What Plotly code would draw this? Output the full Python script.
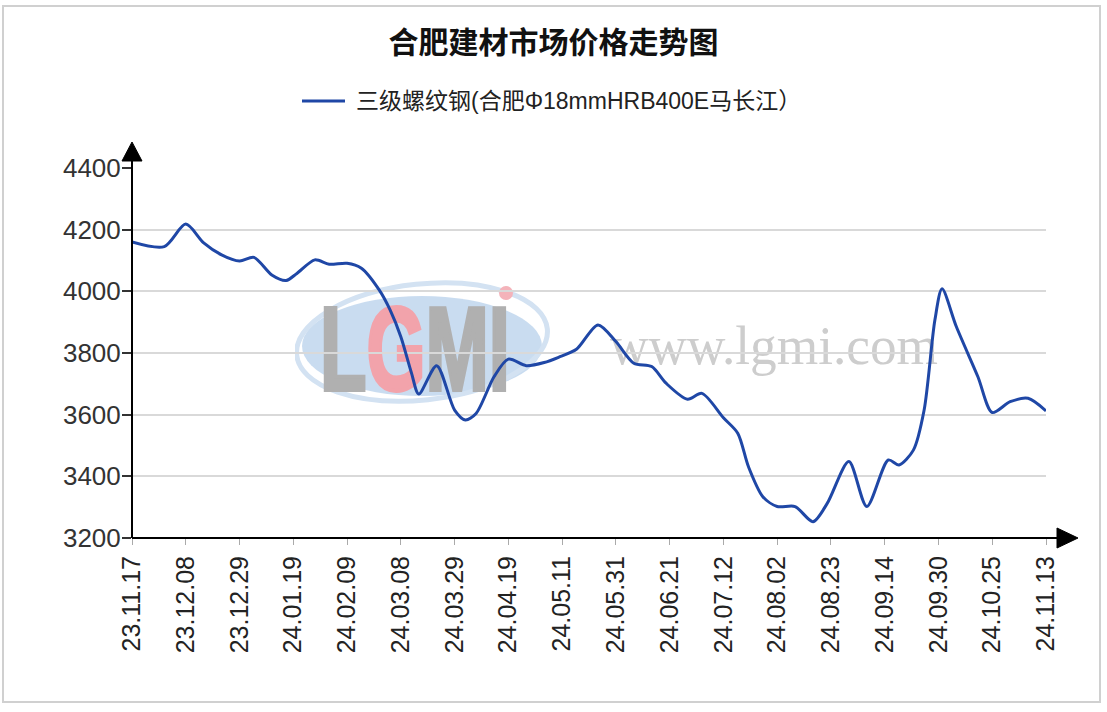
import base64
import plotly.graph_objects as go

# trading-day index (15 days between labelled ticks) and price
day = [0, 9, 15, 20, 25, 30, 34, 39, 43, 46, 51, 55, 60, 64, 69, 72, 75, 78, 80,
       85, 90, 93, 96, 101, 105, 110, 115, 119, 124, 130, 135, 140, 145, 149,
       155, 159, 165, 169, 172, 176, 180, 185, 190, 194, 200, 205, 211, 214,
       218, 221, 224, 226, 230, 236, 240, 245, 250, 255]
price = [4160, 4145, 4218, 4157, 4118, 4098, 4110, 4053, 4035, 4058, 4102, 4088,
         4091, 4075, 4004, 3940, 3853, 3734, 3667, 3759, 3615, 3583, 3604, 3723,
         3780, 3759, 3769, 3786, 3812, 3891, 3837, 3767, 3756, 3702, 3650, 3669,
         3590, 3540, 3431, 3334, 3302, 3302, 3253, 3313, 3448, 3302, 3453, 3437,
         3485, 3615, 3907, 4008, 3885, 3723, 3607, 3642, 3653, 3612]

tick_labels = ["23.11.17", "23.12.08", "23.12.29", "24.01.19", "24.02.09",
               "24.03.08", "24.03.29", "24.04.19", "24.05.11", "24.05.31",
               "24.06.21", "24.07.12", "24.08.02", "24.08.23", "24.09.14",
               "24.09.30", "24.10.25", "24.11.13"]
tick_pos = [i * 15 for i in range(len(tick_labels))]
y_ticks = [3200, 3400, 3600, 3800, 4000, 4200, 4400]

series_name = "三级螺纹钢(合肥Φ18mmHRB400E马长江）"
title_text = "合肥建材市场价格走势图"

W, H = 1107, 712
X0, X1, Y0, Y1 = 132, 1046, 538, 168      # plot area in window pixels
L, R, T, B = X0, W - X1, Y1, H - Y0
PW, PH = X1 - X0, Y0 - Y1


def px(x):
    return (x - X0) / PW


def py(y):
    return (Y0 - y) / PH


# watermark as an svg picture behind the line
svg = """<svg xmlns='http://www.w3.org/2000/svg' width='650' height='130'>
<ellipse cx='127' cy='66' rx='120' ry='50' fill='#c3d8ee' fill-opacity='0.9'/>
<ellipse cx='127' cy='62' rx='126' ry='58' fill='none' stroke='#d3e2f2' stroke-width='5' transform='rotate(-6 127 62)'/>
<text x='25' y='110' font-family='Liberation Sans' font-weight='bold' font-size='118'
 textLength='190' lengthAdjust='spacingAndGlyphs' fill='#b0b0b0' stroke='#b0b0b0' stroke-width='4'>L<tspan fill='#f2a3ab' stroke='#f2a3ab'>G</tspan>MI</text>
<circle cx='211' cy='13' r='7' fill='#f4b3ba'/>
<text x='315' y='84' font-family='Liberation Serif' font-size='54' textLength='328'
 lengthAdjust='spacingAndGlyphs' fill='#cdcdcd'>www.lgmi.com</text>
</svg>"""
svg_uri = "data:image/svg+xml;base64," + base64.b64encode(svg.encode("utf-8")).decode()

line_color = "#1f47a6"

fig = go.Figure()
fig.add_trace(go.Scatter(
    x=day, y=price, mode="lines", name=series_name, showlegend=False,
    line=dict(color=line_color, width=3, shape="spline", smoothing=0.8),
))

fig.update_layout(
    width=W, height=H,
    margin=dict(l=L, r=R, t=T, b=B, autoexpand=False),
    paper_bgcolor="white", plot_bgcolor="white",
    font=dict(family="Liberation Sans, Noto Sans CJK SC", color="#222"),
    title=dict(text=title_text, x=0.5, xanchor="center", xref="container",
               y=1 - 42 / H, yanchor="middle",
               font=dict(family="Noto Sans CJK SC", size=30, color="#111", weight="bold")),
    xaxis=dict(range=[0, 255], tickvals=tick_pos, ticktext=tick_labels, tickangle=-90,
               showgrid=False, zeroline=False, showline=False,
               ticks="outside", ticklen=6, tickcolor="#aaaaaa", tickwidth=1,
               ticklabelstandoff=1, tickfont=dict(size=25, color="#222")),
    yaxis=dict(range=[3200, 4400], tickvals=y_ticks, showgrid=True, gridcolor="#d9d9d9",
               gridwidth=1.5, zeroline=False, showline=False,
               ticks="outside", ticklen=9, tickcolor="#333", tickwidth=1.5,
               ticklabelstandoff=-4, tickfont=dict(size=26, color="#333")),
    images=[dict(source=svg_uri, xref="paper", yref="paper", x=px(295), y=py(280),
                 sizex=650 / PW, sizey=130 / PH, sizing="stretch",
                 xanchor="left", yanchor="top", layer="below")],
)

# legend drawn by hand so the sample line has the right length
fig.add_shape(type="line", xref="paper", yref="paper", x0=px(302), x1=px(345),
              y0=py(101), y1=py(101), line=dict(color=line_color, width=3))
fig.add_annotation(text=series_name, xref="paper", yref="paper", x=px(354), y=py(101),
                   xanchor="left", yanchor="middle", showarrow=False,
                   font=dict(size=23, color="#222"))

# axis lines with arrow heads, and the outer frame
fig.add_shape(type="line", xref="paper", yref="paper", x0=0, x1=0, y0=0, y1=py(158),
              line=dict(color="black", width=2))
fig.add_shape(type="line", xref="paper", yref="paper", x0=0, x1=px(1060), y0=0, y1=0,
              line=dict(color="black", width=2))
fig.add_shape(type="path", xref="paper", yref="paper",
              path=f"M {px(122)} {py(161)} L {px(142)} {py(161)} L {px(132)} {py(142)} Z",
              fillcolor="black", line=dict(color="black", width=1))
fig.add_shape(type="path", xref="paper", yref="paper",
              path=f"M {px(1057)} {py(528)} L {px(1057)} {py(548)} L {px(1078)} {py(538)} Z",
              fillcolor="black", line=dict(color="black", width=1))
fig.add_shape(type="rect", xref="paper", yref="paper",
              x0=px(3), x1=px(1100), y0=py(702), y1=py(6),
              line=dict(color="#d0d0d0", width=2), layer="below")

# drop the page margin so the figure sits in the window corner
fig.write_html("out.html", config={"displayModeBar": False},
               post_script="document.body.style.margin='0';")
